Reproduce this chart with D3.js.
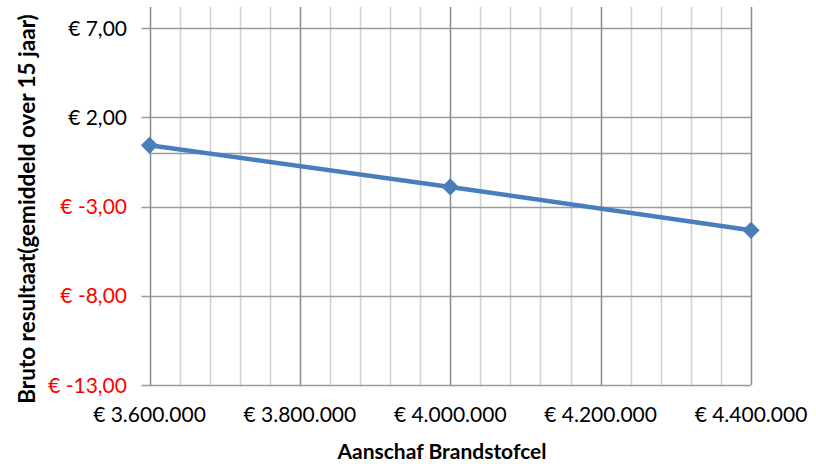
<!DOCTYPE html>
<html>
<head>
<meta charset="utf-8">
<script src="https://cdn.jsdelivr.net/npm/d3@7/dist/d3.min.js"></script>
<style>
  html, body { margin: 0; padding: 0; background: #fff; }
  svg { display: block; font-family: Lato, "Open Sans", sans-serif; }
</style>
</head>
<body>
<svg id="chart" width="816" height="464"></svg>
<script>
// Purchase price of the fuel cell vs. averaged gross result over 15 years
const purchaseCost = [3600000, 4000000, 4400000];
const grossResult = [0.43, -1.9, -4.33];
const xTickValues = [3600000, 3800000, 4000000, 4200000, 4400000];
const yTickValues = [-13, -8, -3, 2, 7];
const xTitle = "Aanschaf Brandstofcel";
const yTitle = "Bruto resultaat(gemiddeld over 15 jaar)";

const nl = d3.formatLocale({ decimal: ",", thousands: ".", grouping: [3], currency: ["€ ", ""], minus: "-" });
const fmtY = v => "€ " + nl.format(",.2f")(v);
const fmtX = v => "€ " + nl.format(",.0f")(v);

const svg = d3.select("#chart");
const plot = { left: 149.5, right: 751, top: 7, bottom: 385 };

const x = d3.scaleLinear().domain([3600000, 4400000]).range([plot.left, plot.right]);
const y = d3.scaleLinear().domain([-13, 8.18]).range([plot.bottom, plot.top]);

// minor vertical gridlines every 40.000
const minor = d3.range(3600000, 4400001, 40000).filter(v => v % 200000 !== 0);
svg.append("g").selectAll("line").data(minor).join("line")
  .attr("x1", d => Math.round(x(d)) + 0.5).attr("x2", d => Math.round(x(d)) + 0.5)
  .attr("y1", plot.top).attr("y2", plot.bottom)
  .attr("stroke", "#d0d0d0").attr("stroke-width", 1.5);

// major vertical gridlines
svg.append("g").selectAll("line").data(xTickValues).join("line")
  .attr("x1", d => Math.round(x(d)) + 0.5).attr("x2", d => Math.round(x(d)) + 0.5)
  .attr("y1", plot.top).attr("y2", plot.bottom)
  .attr("stroke", "#8a8a8a").attr("stroke-width", 1.5);

// horizontal gridlines with outside tick marks
svg.append("g").selectAll("line").data(yTickValues).join("line")
  .attr("x1", plot.left - 8).attr("x2", plot.right)
  .attr("y1", d => Math.round(y(d)) + 0.5).attr("y2", d => Math.round(y(d)) + 0.5)
  .attr("stroke", "#9a9a9a").attr("stroke-width", 1.5);

// horizontal axis line at zero
svg.append("line")
  .attr("x1", plot.left).attr("x2", plot.right)
  .attr("y1", Math.round(y(0)) + 0.5).attr("y2", Math.round(y(0)) + 0.5)
  .attr("stroke", "#9a9a9a").attr("stroke-width", 1.5);

// y tick labels (negative values in red)
svg.append("g").selectAll("text").data(yTickValues).join("text")
  .attr("x", 127).attr("y", d => y(d)).attr("dy", "0.36em")
  .attr("text-anchor", "end")
  .attr("font-size", 21)
  .attr("fill", d => d < 0 ? "#ff0000" : "#000")
  .text(fmtY);

// x tick labels
svg.append("g").selectAll("text").data(xTickValues).join("text")
  .attr("x", d => x(d)).attr("y", 422)
  .attr("text-anchor", "middle")
  .attr("font-size", 21)
  .attr("fill", "#000")
  .text(fmtX);

// axis titles
svg.append("text")
  .attr("x", 442).attr("y", 459)
  .attr("text-anchor", "middle")
  .attr("font-size", 21).attr("font-weight", "bold")
  .text(xTitle);

svg.append("text")
  .attr("transform", "translate(35,209) rotate(-90)")
  .attr("text-anchor", "middle")
  .attr("font-size", 22.5).attr("font-weight", "bold")
  .text(yTitle);

// series line
const pts = purchaseCost.map((c, i) => [c, grossResult[i]]);
svg.append("path")
  .datum(pts)
  .attr("fill", "none")
  .attr("stroke", "#4a7ebb")
  .attr("stroke-width", 4.5)
  .attr("stroke-linejoin", "round")
  .attr("d", d3.line().x(d => x(d[0])).y(d => y(d[1])));

// diamond markers
const diamond = d3.symbol().type(d3.symbolDiamond2).size(190);
svg.append("g").selectAll("path").data(pts).join("path")
  .attr("transform", d => `translate(${x(d[0])},${y(d[1])})`)
  .attr("d", diamond)
  .attr("fill", "#4a7ebb");
</script>
</body>
</html>
